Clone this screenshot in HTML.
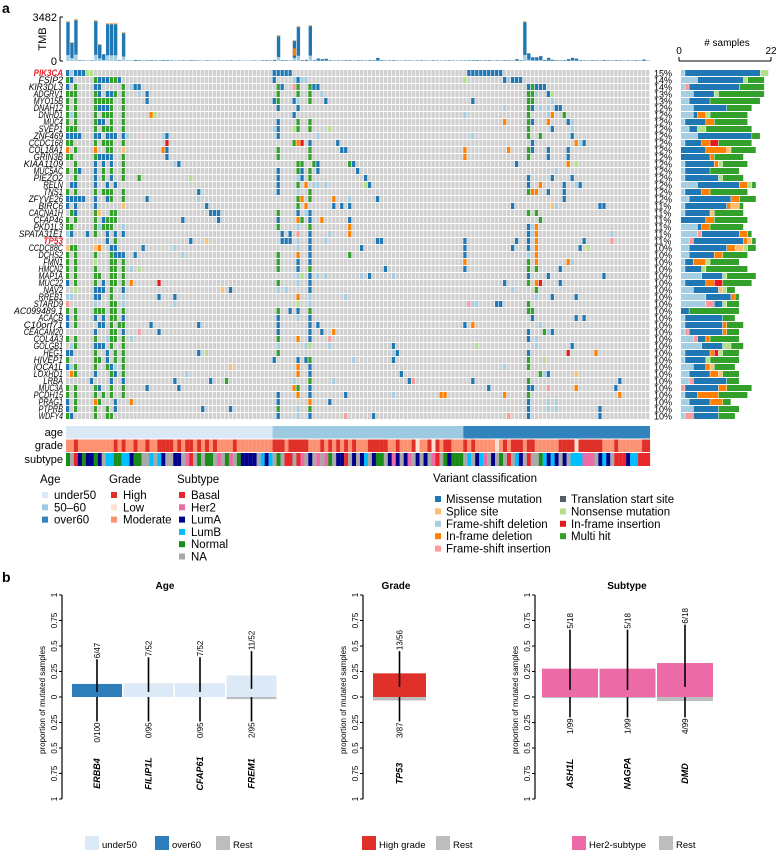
<!DOCTYPE html>
<html><head><meta charset="utf-8">
<style>
html,body{margin:0;padding:0;background:#fff;}
svg{display:block;font-family:"Liberation Sans",sans-serif;}
</style></head>
<body>
<svg id="fig" width="778" height="855" viewBox="0 0 778 855" xmlns="http://www.w3.org/2000/svg">
<text x="2" y="13" font-size="14" font-weight="bold">a</text>
<text x="2" y="582" font-size="14" font-weight="bold">b</text>
<g id="tmb"></g>
<g id="matrix"></g>
<g id="side"></g>
<g id="annot"></g>
<g id="legA"></g>
<g id="pb"></g>
</svg>
<script>
const genes=["PIK3CA","FSIP2","KIR3DL3","ADGRV1","MYO15B","DNAH12","DNHD1","MUC4","SVEP1","ZNF469","CCDC168","COL18A1","GRIN3B","KIAA1109","MUC5AC","PIEZO2","RELN","TNS1","ZFYVE26","BIRC6","CACNA1H","CFAP46","PKD1L3","SPATA31E1","TP53","CCDC88C","DCHS2","FMN1","HMCN2","MAP1A","MUC22","NAV2","RREB1","STARD9","AC099489.1","ACACB","C10orf71","CEACAM20","COL4A3","GOLGB1","HEG1","HIVEP1","IQCA1L","LOXHD1","LRBA","MUC3A","PCDH15","PRAG1","PTPRB","WDFY4"];
const percents=[15,14,14,13,13,12,12,12,12,12,12,12,12,12,12,12,12,12,12,11,11,11,11,11,11,10,10,10,10,10,10,10,10,10,10,10,10,10,10,10,10,10,10,10,10,10,10,10,10,10];
const mutations=[
"0M 1F 2M 3M 4M 5N 6N 52M 53M 54M 55M 56M 101M 102M 103M 104M 105M 106M 107M 108M 109M",
"0H 1M 7H 8M 9M 10M 11H 12H 13M 52M 57F 58M 59F 60F 100N 110M 111F 112M 113M 114M",
"0M 2H 7M 8M 14H 16F 17M 18M 53H 54M 57P 58H 61H 62M 63M 116M 117H 118M 119M 120M",
"0H 1H 2H 7H 8M 10M 11M 12H 14H 18F 20M 53H 58H 61H 64F 116H 117H 118F 121M 122N",
"0H 2H 7H 8H 9H 10H 11H 14H 20M 52M 53H 57M 58F 61H 65M 102M 116H 117H 122F",
"0H 2H 7H 8M 9M 10M 11H 14H 53M 58M 110F 116H 117M 119F 121F 123M 124M",
"0H 1F 2H 7H 9H 10H 11H 14H 21I 22N 57M 100F 116H 121F 122I 125H",
"0H 2H 7H 8M 9M 11H 14H 53M 58H 61H 110I 116H 117M 121I 126M 127F",
"0H 1H 2H 7H 9H 10H 11H 14H 52F 53M 57N 58H 61H 66N 116H 122M 127F",
"0M 1M 2M 3M 7M 8M 10M 11M 12M 14M 15F 24F 25M 53M 63F 102F 116H 119H 127M",
"0H 1H 7H 9H 10H 11H 14H 25R 57H 58I 59R 61M 68M 117M 128I 129F 130M",
"0I 2H 7I 10H 11H 14S 24I 25M 53H 61H 69M 70M 100I 111I 116H 117M 121M 126M",
"0H 1H 7H 8M 9M 10M 11M 14H 25M 53H 61H 100I 116H 121M 126M",
"2H 7M 9M 11M 14H 27F 28M 58H 59H 62H 63M 71H 72M 113M 126I 128N",
"0H 2H 3M 7M 9H 11H 14H 53M 58H 59M 61H 63M 73M 123F",
"2H 7M 9H 11M 14H 18H 31N 53M 58F 59M 61H 75M 116M 122M 127M",
"1M 2M 7M 10M 12M 53M 58H 60I 62F 63F 65F 75N 76M 116M 119I 125M 128F 129M",
"0H 2H 7H 9H 10H 11H 14H 33M 53M 58F 61H 116H 117I 118I 121M 125M",
"0M 1M 2M 3M 4M 7M 10M 11H 14H 20M 33F 58H 59I 61H 67I 71F 78M 125M",
"0M 2M 7M 14S 35M 58H 60I 67M 69M 71M 112M 122S 123F 134M 135M",
"1H 2M 7H 8S 11H 12H 36M 37M 38M 53H 58M 60F 61M 116H 118H",
"0H 2H 7H 9M 10H 11H 12H 29M 38M 53M 58I 59H 61M 64I 71M 119H",
"0H 1H 7H 8F 9H 10H 11H 14F 53H 58F 61H 71I 116M 117F 118I",
"0F 1M 5M 7H 10M 12M 14M 54M 56M 58P 61M 66F 71I 116M 117F 118I 137F",
"10M 12H 31M 35S 54M 55M 56M 58F 61M 65F 78M 79M 100M 113M 116M 118I 130M 137P",
"0S 1H 2H 7S 8I 11M 12M 19M 27F 58F 61M 74M 100M 112M 116M 118I 129M 131N",
"0H 2H 7H 11H 12M 13M 14M 17M 29F 53H 58I 61M 71H 100M 116F 118I",
"0H 2H 7N 11H 12H 14H 53H 58M 61M 100I 116H 118I 126I 127F",
"0H 2H 7H 11H 12H 14H 16F 18N 53H 58M 61H 80M 100M 116H 118H 124M",
"0H 2H 7H 8H 11H 12H 14H 58F 59N 61M 63F 65F 74F 76M 82F 116M 121M 135M",
"0M 2H 7H 9M 11H 12H 14H 16I 23R 53H 58F 61M 110M 116H 118I 119R 124M",
"2N 7M 8M 9M 11H 14M 39S 41M 53F 55F 61M 112F 118H",
"0F 1F 7M 8M 11H 14F 23M 27M 58I 61F 70F 118F 122M 128M",
"0P 7F 11H 12H 14F 27F 58N 61F 101P 102F 103F 108M 109M 116H",
"0H 2H 7H 8H 9H 11H 12H 14H 53H 56M 58M 61H 116H 117H",
"0M 2H 7M 9M 11H 12H 14M 53M 58F 61M 117M 128M 130M",
"0M 2H 8M 9M 11H 13H 14H 21M 33M 53M 61M 63M 100M 102I 119F",
"7M 11H 12H 14M 18P 23M 53M 61M 64M 67I 116M 120H 121F 122M",
"0H 2H 7H 10F 11H 12H 14H 16F 53H 58I 61M 66P 116M 118F",
"1F 2H 7M 8M 9M 11H 14H 53F 60F 61N 66F 82M 103N 118F 127M",
"0M 1M 7H 10M 12H 14H 33M 35N 53H 82F 83M 116M 126R 133I",
"0H 7H 8H 10M 12H 14H 52M 58M 60M 61H 72F 82M 116H 120N",
"0M 1F 2H 7H 10H 11M 12F 14H 41S 58I 61M 110F 116H",
"1I 2H 7M 11H 12M 14H 30F 58I 61M 84M 119H 120F 121M 128S",
"6M 11M 14M 27M 36M 40H 57F 61H 67F 86M 87P 102M 116H 139M",
"0H 2H 7H 8M 11H 14H 20M 28M 57I 58H 61M 106M 116M 117M 121P 128I 138M",
"0H 2H 7H 9H 11H 14H 53M 58I 61M 70M 82F 94I 95I 110I 116H 139I",
"0M 2H 7I 8H 12M 16I 53M 61I 66M 116M 121F 123F",
"0M 2H 7H 10H 12M 34M 41M 53H 58F 61H 116M 121F 123F 134M",
"0H 1M 7H 10H 11H 53M 58F 61M 70P 77M 111P 116M 134M"];
const tmbValues=[3160,1500,3320,60,40,30,50,3240,1340,550,
3000,3000,3000,60,2290,40,30,80,60,40,
50,60,50,40,70,60,50,30,40,50,
40,60,50,40,30,50,40,30,40,30,
40,50,30,40,30,20,30,40,30,50,
60,40,90,2050,60,50,40,1660,2770,60,
90,2850,60,200,150,180,60,40,50,40,
60,50,40,60,50,40,60,50,250,60,
40,50,60,40,30,50,40,30,40,50,
40,30,50,40,30,40,50,40,30,40,
40,50,60,70,40,50,60,40,50,40,
60,50,40,150,60,3160,630,300,300,400,
80,250,100,60,50,60,150,250,200,60,
50,40,60,50,40,70,50,40,60,50,
40,50,40,60,40,120,30];
const tmbMax=3482;
const ageCounts=[52,48,47];
const gradeHigh=[2,12,14,17,20,23,24,25,26,28,30,31,33,35,37,42,52,53,54,56,57,58,59,60,64,66,68,70,72,76,77,78,79,80,83,87,91,93,95,96,100,102,110,112,113,114,116,117,124,125,126,127,129,130,131,132,133,134,138,145,146];
const gradeLow=[88,92,108,128];
const subtypeSeq="NXBANAANAXLLNNLLANNXXLXLAXXAAXHBXNXNNXHXNHXNAAAAXLALXNXBBXBHXAXHXHNXAABXAXALXANNXAHAXAHXAXAXHBXNANNNXLXALHXAXNXBXLAXBXXNLALAXAXLLLHHHXALAXBBBALLBBB";
// panel b data
const ageGenes=["ERBB4","FILIP1L","CFAP61","FREM1"];
const ageGroupProp=[0.128,0.135,0.135,0.212];
const ageRestProp=[0,0,0,0.021];
const ageGroupLabel=["6/47","7/52","7/52","11/52"];
const ageRestLabel=["0/100","0/95","0/95","2/95"];
const ageGroupCat=["over60","under50","under50","under50"];
const ageCiHi=[0.37,0.39,0.39,0.45];
const ageCiLo=[0.05,0.05,0.05,0.08];
const ageRestCi=[0.24,0.24,0.24,0.24];
const gradeGenes=["TP53"];
const gradeGroupProp=[0.232];
const gradeRestProp=[0.034];
const gradeGroupLabel=["13/56"];
const gradeRestLabel=["3/87"];
const gradeCiHi=[0.45];
const gradeCiLo=[0.1];
const gradeRestCi=[0.24];
const subGenes=["ASH1L","NAGPA","DMD"];
const subGroupProp=[0.278,0.278,0.333];
const subRestProp=[0.01,0.01,0.04];
const subGroupLabel=["5/18","5/18","6/18"];
const subRestLabel=["1/99","1/99","4/99"];
const subCiHi=[0.66,0.66,0.71];
const subCiLo=[0.07,0.07,0.1];
const subRestCi=[0.2,0.2,0.2];

const NS="http://www.w3.org/2000/svg";
const COL={M:"#1f78b4",S:"#fdbf6f",F:"#a6cee3",I:"#ff7f00",P:"#fb9a99",T:"#535c68",N:"#b2df8a",R:"#e31a1c",H:"#33a02c"};
const SUBCOL={B:"#e8262b",H:"#ec6aa5",A:"#00008b",L:"#00bfff",N:"#1a8c1a",X:"#a9a9a9"};
function el(tag,attrs,parent,txt){const e=document.createElementNS(NS,tag);for(const k in attrs)e.setAttribute(k,attrs[k]);if(txt!==undefined)e.textContent=txt;parent.appendChild(e);return e;}
const nS=147,gx=66,gw=584,cw=gw/nS,y0=70,rh=7;
const xCol=i=>gx+i*cw;
const yRow=r=>y0+r*rh;

// TMB
const tmb=document.getElementById('tmb');
const tBase=61,tH=44;
const yT=v=>tBase-v/tmbMax*tH;
el('line',{x1:60,y1:17,x2:60,y2:61,stroke:"#000","stroke-width":1},tmb);
el('line',{x1:60,y1:17,x2:63,y2:17,stroke:"#000"},tmb);
el('line',{x1:60,y1:61,x2:63,y2:61,stroke:"#000"},tmb);
let t1=el('text',{x:57,y:21,"font-size":11,"text-anchor":"end"},tmb,"3482");

let t0=el('text',{x:57,y:65,"font-size":11,"text-anchor":"end"},tmb,"0");

let tt=el('text',{x:0,y:0,"font-size":11,"text-anchor":"middle",transform:"translate(46,39) rotate(-90)"},tmb,"TMB");

tmbValues.forEach((v,i)=>{
  const h=tBase-yT(v);const x=xCol(i)+0.3,w=cw-0.6;
  const g=el('g',{},tmb);
  
  const fl=h*0.15, tp=Math.min(1.2,h*0.05);
  el('rect',{x:x,y:tBase-fl,width:w,height:fl,fill:COL.F},g);
  el('rect',{x:x,y:yT(v),width:w,height:h-fl,fill:COL.M},g);
  if(i===57){el('rect',{x:x,y:tBase-h*0.6,width:w,height:h*0.35,fill:COL.I},g);}
  el('rect',{x:x,y:yT(v),width:w,height:tp,fill:COL.S},g);
});

// matrix
const mx=document.getElementById('matrix');
const counts=[];
genes.forEach((gname,r)=>{
  const y=yRow(r);
  const row=el('g',{},mx);
  
  
  for(let i=0;i<nS;i++){el('rect',{x:xCol(i),y:y,width:cw-0.7,height:rh-1,fill:"#d0d0d0"},row);}
  const c={};
  mutations[r].split(' ').forEach(tok=>{
    const col=parseInt(tok),ty=tok.slice(-1);
    c[ty]=(c[ty]||0)+1;
    const cell=el('rect',{x:xCol(col),y:y,width:cw-0.7,height:rh-1,fill:COL[ty]},row);
    
    
  });
  counts.push(c);
  const red=(gname==="PIK3CA"||gname==="TP53");
  const lab=el('text',{x:63,y:y+6,"font-size":9,"font-style":"italic","font-weight":red?"bold":"normal",fill:red?"#e8202a":"#000","text-anchor":"end",textLength:Math.min(gname.length*4.9,50),lengthAdjust:"spacingAndGlyphs"},mx,gname);
  
  
  const pl=el('text',{x:654,y:y+6.5,"font-size":9},mx,percents[r]+"%");
  
  
});

// side bars
const sd=document.getElementById('side');
const sx0=681,sScale=(771-679)/22;
el('line',{x1:679,y1:61,x2:771,y2:61,stroke:"#000"},sd);
el('line',{x1:679,y1:61,x2:679,y2:57,stroke:"#000"},sd);
el('line',{x1:771,y1:61,x2:771,y2:57,stroke:"#000"},sd);
let s0=el('text',{x:679,y:54,"font-size":10,"text-anchor":"middle"},sd,"0");

let s22=el('text',{x:771,y:54,"font-size":10,"text-anchor":"middle"},sd,"22");

let stl=el('text',{x:727,y:46,"font-size":10,"text-anchor":"middle"},sd,"# samples");

const order=["F","P","M","I","S","R","N","T","H"];
counts.forEach((c,r)=>{
  let x=sx0;
  order.forEach(k=>{ if(c[k]){ const w=c[k]*sScale;
    const b=el('rect',{x:x,y:yRow(r),width:w-0.5,height:rh-1,fill:COL[k]},sd);
    
    
    x+=w;}});
});

// annotations
const an=document.getElementById('annot');
const ageCol=["#dbe9f6","#9ecae1","#3182bd"];
let acc=0;
ageCounts.forEach((n,k)=>{const a=el('rect',{x:xCol(acc),y:426,width:n*cw,height:12.5,fill:ageCol[k]},an);
acc+=n;});
for(let i=0;i<nS;i++){
  const gc=gradeHigh.includes(i)?"#e0302a":gradeLow.includes(i)?"#fde0d2":"#fc9272";
  const gr=el('rect',{x:xCol(i),y:439.5,width:cw+0.1,height:12.5,fill:gc},an);
  
  const st=el('rect',{x:xCol(i),y:453,width:cw+0.1,height:13,fill:SUBCOL[subtypeSeq[i]||'X']},an);
  
}
[["age",436],["grade",449],["subtype",463]].forEach(([t,y])=>{const e=el('text',{x:63,y:y,"font-size":11,"text-anchor":"end"},an,t);
});

// legend a
const lg=document.getElementById('legA');
function legBlock(x,y,title,items,dy){
  const tl=el('text',{x:x,y:y,"font-size":11.5},lg,title);
  
  items.forEach((it,k)=>{const yy=y+15+k*dy;
    const sq=el('rect',{x:x+2,y:yy-6,width:6,height:6,fill:it[1]},lg);
    
    const tx=el('text',{x:x+14,y:yy+1,"font-size":11.5},lg,it[0]);
    });
}
legBlock(40,483,"Age",[["under50",ageCol[0]],["50\u201360",ageCol[1]],["over60",ageCol[2]]],12.3);
legBlock(109,483,"Grade",[["High","#e0302a"],["Low","#fde0d2"],["Moderate","#fc9272"]],12.3);
legBlock(177,483,"Subtype",[["Basal",SUBCOL.B],["Her2",SUBCOL.H],["LumA",SUBCOL.A],["LumB",SUBCOL.L],["Normal",SUBCOL.N],["NA",SUBCOL.X]],12.3);
legBlock(433,482,"Variant classification",[],12.4);
[["Missense mutation",COL.M],["Splice site",COL.S],["Frame-shift deletion",COL.F],["In-frame deletion",COL.I],["Frame-shift insertion",COL.P]].forEach((it,k)=>{
  const yy=502+k*12.4;
  const sq=el('rect',{x:435,y:yy-6,width:6,height:6,fill:it[1]},lg);
  const tx=el('text',{x:446,y:yy+1,"font-size":11.5},lg,it[0]);});
[["Translation start site",COL.T],["Nonsense mutation",COL.N],["In-frame insertion",COL.R],["Multi hit",COL.H]].forEach((it,k)=>{
  const yy=502+k*12.4;
  const sq=el('rect',{x:560,y:yy-6,width:6,height:6,fill:it[1]},lg);
  const tx=el('text',{x:571,y:yy+1,"font-size":11.5},lg,it[0]);});

// panel b
const pb=document.getElementById('pb');
const zeroY=697,unit=102;
const yUp=v=>zeroY-v*unit, yDn=v=>zeroY+v*unit;
function axis(ax,title,tx){
  el('line',{x1:ax,y1:yUp(1),x2:ax,y2:yDn(1),stroke:"#000","stroke-width":1.2},pb);
  const ticks=[1,0.75,0.5,0.25,0,0.25,0.5,0.75,1];
  const labs=["1","0.75","0.5","0.25","0","0.25","0.5","0.75","1"];
  ticks.forEach((t,k)=>{const y=k<4?yUp(t):yDn(t);
    el('line',{x1:ax-3,y1:y,x2:ax,y2:y,stroke:"#000"},pb);
    const e=el('text',{x:0,y:0,"font-size":8,"text-anchor":"middle",transform:`translate(${ax-5},${y}) rotate(-90)`},pb,labs[k]);
    });
  const yt=el('text',{x:0,y:0,"font-size":8,"text-anchor":"middle",transform:`translate(${ax-17},${zeroY+3}) rotate(-90)`},pb,"proportion of mutated samples");
  
  const tl=el('text',{x:tx,y:589,"font-size":10,"font-weight":"bold","text-anchor":"middle"},pb,title);
  
}
function bars(x0,bw,gap,gns,gp,rp,gl,rl,hi,lo,rci,colorFn){
  gns.forEach((g,i)=>{
    const x=x0+i*(bw+gap),cx=x+bw/2;
    const r1=el('rect',{x:x,y:zeroY,width:bw,height:rp[i]*unit,fill:"#bdbdbd"},pb);
    
    const r2=el('rect',{x:x,y:yUp(gp[i]),width:bw,height:gp[i]*unit,fill:colorFn(i)},pb);
    
    el('line',{x1:cx,y1:yUp(hi[i]),x2:cx,y2:yUp(lo[i]),stroke:"#000","stroke-width":1.6},pb);
    el('line',{x1:cx,y1:zeroY,x2:cx,y2:yDn(rci[i]),stroke:"#000","stroke-width":1.6},pb);
    const a=el('text',{x:0,y:0,"font-size":8,"text-anchor":"start",transform:`translate(${cx+3},${yUp(hi[i])-1}) rotate(-90)`},pb,gl[i]);
    
    const b=el('text',{x:0,y:0,"font-size":8,"text-anchor":"end",transform:`translate(${cx+3},${yDn(rci[i])+1}) rotate(-90)`},pb,rl[i]);
    
    const gn=el('text',{x:0,y:0,"font-size":9,"font-weight":"bold","font-style":"italic","text-anchor":"middle",transform:`translate(${cx+3},${yDn(0.75)}) rotate(-90)`},pb,g);
    
  });
}
axis(62,"Age",165);
bars(72,50,1.5,ageGenes,ageGroupProp,ageRestProp,ageGroupLabel,ageRestLabel,ageCiHi,ageCiLo,ageRestCi,i=>ageGroupCat[i]==="over60"?"#2e7ebc":"#dce9f6");
axis(363,"Grade",396);
bars(373,53,0,gradeGenes,gradeGroupProp,gradeRestProp,gradeGroupLabel,gradeRestLabel,gradeCiHi,gradeCiLo,gradeRestCi,()=>"#e0302a");
axis(535,"Subtype",627);
bars(542,56,1.5,subGenes,subGroupProp,subRestProp,subGroupLabel,subRestLabel,subCiHi,subCiLo,subRestCi,()=>"#ec6aa5");
// legends b
[[85,"under50","#dce9f6"],[155,"over60","#2e7ebc"],[216,"Rest","#bdbdbd"],[362,"High grade","#e0302a"],[436,"Rest","#bdbdbd"],[572,"Her2-subtype","#ec6aa5"],[659,"Rest","#bdbdbd"]].forEach(([x,t,c])=>{
  const sq=el('rect',{x:x,y:836,width:14,height:14,fill:c},pb);
  
  const tx=el('text',{x:x+17,y:848,"font-size":9.5},pb,t);
  
});
</script>
</body></html>
